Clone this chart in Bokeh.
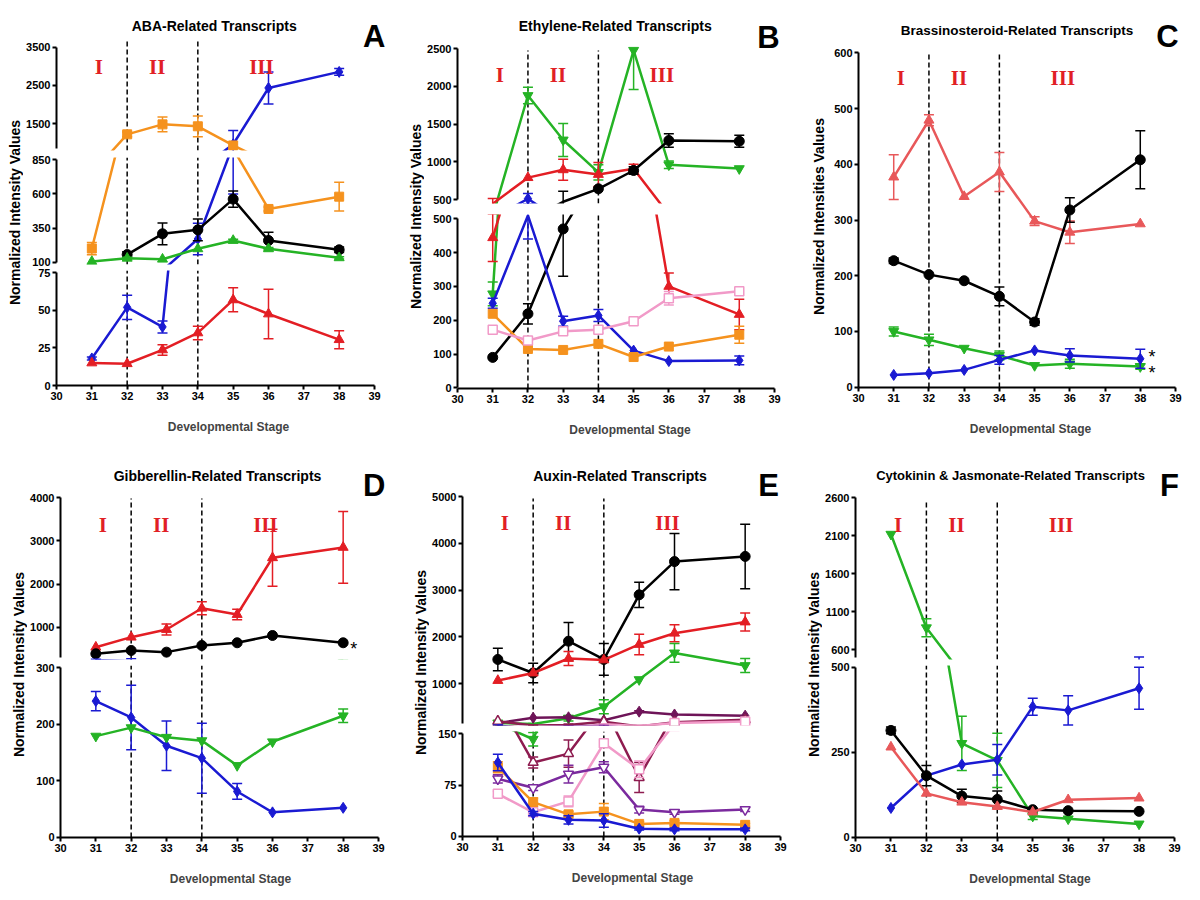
import math
from bokeh.plotting import figure
from bokeh.models import Range1d, FixedTicker, Label
from bokeh.layouts import row, column
from bokeh.embed import file_html
from bokeh.resources import INLINE

nan = float("nan")

# ---------------- data ----------------
stages = [31, 32, 33, 34, 35, 36, 38]
x_ticks = list(range(30, 40))
region_labels = ["I", "II", "III"]
region_x = [31.2, 32.85, 35.8]
stage_breaks = [32, 34]
x_label = "Developmental Stage"
y_label = "Normalized Intensity Values"
y_label_c = "Normalized Intensities Values"

titles = ["ABA-Related Transcripts", "Ethylene-Related Transcripts",
          "Brassinosteroid-Related Transcripts", "Gibberellin-Related Transcripts",
          "Auxin-Related Transcripts", "Cytokinin & Jasmonate-Related Transcripts"]
letters = ["A", "B", "C", "D", "E", "F"]

# Panel A (ABA)
a_ticks_top = [1500, 2500, 3500]
a_ticks_mid = [100, 350, 600, 850]
a_ticks_low = [0, 25, 50, 75]
a_blue = [18, 52, 39, 270, 960, 2430, 2850]
a_blue_err = [1, 8, 4, 115, 360, 420, 90]
a_orange = [200, 1220, 1480, 1430, 930, 490, 580]
a_orange_err = [45, 60, 190, 270, 0, 15, 105]
a_black = [nan, 156, 308, 337, 562, 259, 191]
a_black_err = [0, 20, 80, 80, 60, 60, 20]
a_green = [105, 129, 122, 198, 259, 198, 132]
a_green_err = [0, 8, 0, 0, 10, 10, 8]
a_red = [15, 14.5, 23.7, 35, 57, 47.6, 30.5]
a_red_err = [0, 0, 3.5, 4.5, 8, 16.5, 6]

# Panel B (Ethylene)
b_ticks_top = [500, 1000, 1500, 2000, 2500]
b_ticks_low = [0, 100, 200, 300, 400, 500]
b_green = [278, 1880, 1290, 860, 2480, 960, 910]
b_green_err = [35, 110, 220, 100, 520, 50, 0]
b_green_err_up = [35, 110, 220, 100, 0, 50, 0]
b_red = [444, 790, 894, 832, 907, 300, 217]
b_red_err = [70, 0, 140, 160, 60, 40, 45]
b_black = [90, 219, 470, 642, 885, 1283, 1273]
b_black_err = [0, 30, 140, 0, 50, 90, 80]
b_blue = [250, 510, 197, 214, 110, 79, 81]
b_blue_err = [15, 70, 15, 18, 0, 0, 13]
b_orange = [219, 115, 112, 130, 91, 122, 157]
b_orange_err = [0, 0, 0, 0, 0, 0, 25]
b_pink = [172, 140, 167, 172, 197, 265, 286]
b_pink_err = [0, 0, 0, 10, 0, 20, 0]

# Panel C (Brassinosteroid)
c_ticks = [0, 100, 200, 300, 400, 500, 600]
c_salmon = [377, 479, 342, 386, 298, 278, 293]
c_salmon_err = [40, 10, 0, 35, 8, 20, 0]
c_black = [227, 202, 191, 163, 117, 318, 408]
c_black_err = [5, 0, 0, 17, 6, 22, 52]
c_green = [100, 85, 70, 57, 39, 42, 37]
c_green_err = [8, 10, 0, 8, 0, 8, 5]
c_blue = [22, 25, 31, 49, 66, 57, 51]
c_blue_err = [0, 0, 0, 8, 0, 12, 17]

# Panel D (Gibberellin)
d_ticks_top = [1000, 2000, 3000, 4000]
d_ticks_low = [0, 100, 200, 300]
d_red = [537, 769, 947, 1440, 1294, 2610, 2850]
d_red_err = [0, 0, 130, 150, 120, 660, 830]
d_black = [384, 461, 422, 576, 639, 808, 639]
d_black_err = [0, 0, 0, 0, 0, 0, 0]
d_blue = [241, 212, 162, 140, 81, 44, 52]
d_blue_err = [17, 57, 44, 62, 14, 0, 0]
d_green = [179, 194, 177, 171, 127, 169, 215]
d_green_err = [0, 0, 0, 0, 0, 0, 12]

# Panel E (Auxin)
e_ticks_top = [1000, 2000, 3000, 4000, 5000]
e_ticks_low = [0, 75, 150]
e_black = [1520, 1230, 1910, 1520, 2900, 3610, 3720]
e_black_err = [240, 210, 400, 340, 270, 600, 690]
e_red = [1070, 1230, 1540, 1510, 1840, 2080, 2320]
e_red_err = [0, 0, 150, 0, 220, 180, 190]
e_green = [165, 142, 265, 510, 1090, 1660, 1390]
e_green_err = [0, 10, 60, 150, 0, 200, 150]
e_magenta = [160, 275, 285, 220, 405, 345, 320]
e_magenta_err = [0, 0, 20, 0, 20, 0, 0]
e_maroon = [200, 108, 121, 190, 86, 180, 230]
e_maroon_err = [0, 8, 20, 0, 22, 0, 0]
e_pink = [62, 35, 51, 136, 98, 165, 195]
e_pink_err = [4, 4, 8, 0, 12, 10, 10]
e_purple = [84, 71, 91, 101, 39, 35, 39]
e_purple_err = [6, 4, 13, 8, 5, 3, 3]
e_orange = [101, 50, 32, 36, 18, 19.5, 16.6]
e_orange_err = [8, 6, 4, 12, 3, 3, 2]
e_blue = [108, 33, 24, 23, 11, 10, 10]
e_blue_err = [12, 3, 6, 10, 2, 2, 2]

# Panel F (Cytokinin & Jasmonate)
f_ticks_top = [600, 1100, 1600, 2100, 2600]
f_ticks_low = [0, 250, 500]
f_green = [2120, 887, 276, 226, 62, 54, 39]
f_green_err = [0, 120, 80, 80, 10, 0, 0]
f_blue = [86, 181, 214, 228, 384, 373, 438]
f_blue_err = [0, 0, 0, 45, 25, 43, 62]
f_black = [314, 181, 121, 111, 81, 78, 76]
f_black_err = [10, 30, 20, 25, 0, 0, 0]
f_salmon = [265, 129, 103, 90, 74, 110, 115]
f_salmon_err = [0, 0, 0, 0, 0, 0, 0]

# ---------------- styles ----------------
BLUE = "#1a1ad2"
ORANGE = "#f5921e"
GREEN = "#25b325"
RED = "#e31e24"
SALMON = "#e8585a"
BLACK = "#000000"
PINK = "#f19ac8"
PURPLE = "#7b2a9e"
MAROON = "#8e1c50"
MAGENTA = "#6e1458"
ROMAN = "#e11f26"

FONT = '"Liberation Sans", Arial, sans-serif'
FONT_S = '"Liberation Serif", "Times New Roman", serif'
AXIS_W = 31


def S(y, e, color, marker, open_=False, size=10, eu=None):
    return dict(y=y, e=e, eu=(eu if eu is not None else e), color=color,
                marker=marker, open=open_, size=size)


def style_axis(ax):
    ax.major_label_text_font = FONT
    ax.major_label_text_font_style = "bold"
    ax.major_label_text_font_size = "11px"
    ax.major_label_text_color = "black"
    ax.axis_line_width = 2
    ax.major_tick_line_width = 2
    ax.major_tick_out = 4
    ax.major_tick_in = 0
    ax.minor_tick_out = 0
    ax.minor_tick_in = 0
    ax.major_label_standoff = 2


def draw_series(p, s, lo, hi):
    """Draw one series in one axis segment; markers only for points of this segment."""
    xs, ys = stages, s["y"]
    ex, elo, ehi = [], [], []
    cx, cy = [], []
    for x, y, e, eu in zip(xs, ys, s["e"], s["eu"]):
        if math.isnan(y):
            continue
        if e > 0 or eu > 0:
            ex.append(x); elo.append(y - e); ehi.append(y + eu)
        if e > 0:
            cx.append(x); cy.append(y - e)
        if eu > 0:
            cx.append(x); cy.append(y + eu)
    if ex:
        p.segment(ex, elo, ex, ehi, line_color=s["color"], line_width=1.5)
        p.scatter(cx, cy, marker="dash", size=10, line_color=s["color"], line_width=1.5)
    p.line(xs, ys, line_color=s["color"], line_width=2.5)
    mx = [x for x, y in zip(xs, ys) if not math.isnan(y) and lo <= y <= hi]
    my = [y for y in ys if not math.isnan(y) and lo <= y <= hi]
    if not mx:
        return
    if s["open"]:
        p.scatter(mx, my, marker=s["marker"], size=s["size"], line_color=s["color"],
                  fill_color="white", line_width=1.5)
    else:
        p.scatter(mx, my, marker=s["marker"], size=s["size"], line_color=s["color"],
                  fill_color=s["color"], line_width=1)


def build_panel(box, fx, segs, series, idx, title_xy, letter_xy, ylab, ylab_xy,
                roman_y, dash_px, stars=(), pad=2, title_size="14px"):
    left, top, width, height = box
    fx0, fx1 = fx
    kx = (fx1 - fx0) / 9.0
    frame_right = left + width - 2
    fw = frame_right - fx0
    x_end = 39 + (frame_right - fx1) / kx
    ylab_w = fx0 - AXIS_W - left
    n = len(segs)
    frames = []
    for i, sg in enumerate(segs):
        lo, hi, ylo, yhi = sg["lo"], sg["hi"], sg["ylo"], sg["yhi"]
        ft = top if i == 0 else int(round(yhi - pad))
        fb = int(math.ceil(ylo)) if i == n - 1 else int(round(ylo + pad))
        k = (ylo - yhi) / (hi - lo)
        start = lo - (fb - ylo) / k
        end = hi + (yhi - ft) / k
        dtop = hi + (yhi - dash_px) / k if i == 0 else end
        frames.append((ft, fb, start, end, dtop))

    figs = []
    for i, (sg, (ft, fb, start, end, dtop)) in enumerate(zip(segs, frames)):
        if i == 0:
            bt = ft - top
        else:
            gap = ft - frames[i - 1][1]
            bt = gap - gap // 2
        if i == n - 1:
            bb = top + height - fb
        else:
            gap = frames[i + 1][0] - fb
            bb = gap // 2
        last = (i == n - 1)
        p = figure(x_range=Range1d(30, x_end), y_range=Range1d(start, end),
                   frame_width=fw, frame_height=fb - ft,
                   min_border_left=AXIS_W, min_border_right=2,
                   min_border_top=bt, min_border_bottom=bb,
                   x_axis_location="below" if last else None,
                   y_axis_location="left",
                   toolbar_location=None, output_backend="svg",
                   outline_line_color=None, background_fill_color="white",
                   border_fill_color="white")
        p.grid.visible = False
        ya = p.yaxis[0]
        style_axis(ya)
        ya.ticker = FixedTicker(ticks=sg["ticks"])
        ya.bounds = (sg["lo"], sg["hi"])
        if last:
            xa = p.xaxis[0]
            style_axis(xa)
            xa.ticker = FixedTicker(ticks=x_ticks)
            xa.bounds = (30, 39)
            xa.axis_label = x_label
            xa.axis_label_text_font = FONT
            xa.axis_label_text_font_style = "bold"
            xa.axis_label_text_font_size = "12px"
            xa.axis_label_standoff = 17
        # stage boundaries (dashed)
        p.segment(stage_breaks, [start] * 2, stage_breaks, [dtop] * 2,
                  line_color="black", line_width=1.5, line_dash="5 3")
        seg_lo = -1e12 if last else sg["lo"]
        seg_hi = 1e12 if i == 0 else sg["hi"]
        for s in series:
            draw_series(p, s, seg_lo, seg_hi)
        for (sx, sy, soff) in stars:
            if sg["lo"] <= sy <= sg["hi"]:
                p.add_layout(Label(x=sx, y=sy, y_offset=soff, text="*",
                                   text_font=FONT, text_font_size="18px",
                                   text_color="black", text_align="center",
                                   text_baseline="middle"))
        if i == 0:
            p.add_layout(Label(x=title_xy[0] - fx0, y=fb - title_xy[1],
                               x_units="screen", y_units="screen", text=titles[idx],
                               text_font=FONT, text_font_style="bold",
                               text_font_size=title_size, text_color="black",
                               text_align="center", text_baseline="middle"))
            p.add_layout(Label(x=letter_xy[0] - fx0, y=fb - letter_xy[1],
                               x_units="screen", y_units="screen", text=letters[idx],
                               text_font=FONT, text_font_style="bold",
                               text_font_size="31px", text_color="black",
                               text_align="center", text_baseline="middle"))
            for rx, rt in zip(region_x, region_labels):
                p.add_layout(Label(x=rx, y=fb - roman_y, x_units="data",
                                   y_units="screen", text=rt, text_font=FONT_S,
                                   text_font_style="bold", text_font_size="21px",
                                   text_color=ROMAN, text_align="center",
                                   text_baseline="middle"))
        figs.append(p)

    lab = figure(width=ylab_w, height=height, x_range=Range1d(0, 1),
                 y_range=Range1d(0, 1), x_axis_location=None, y_axis_location=None,
                 toolbar_location=None, output_backend="svg", min_border=0,
                 outline_line_color=None, border_fill_color="white",
                 background_fill_color="white")
    lab.grid.visible = False
    cx = min(ylab_xy[0] - left, ylab_w - 9)
    lab.add_layout(Label(x=cx, y=top + height - ylab_xy[1],
                         x_units="screen", y_units="screen", text=ylab,
                         angle=math.pi / 2, text_font=FONT, text_font_style="bold",
                         text_font_size="14px", text_color="black",
                         text_align="center", text_baseline="middle"))
    return row(lab, column(*figs, spacing=0), spacing=0)


pA = build_panel(
    (0, 0, 400, 450), (54, 372),
    [dict(lo=850, hi=3500, ylo=148, yhi=46.5, ticks=a_ticks_top),
     dict(lo=100, hi=850, ylo=261.7, yhi=159.3, ticks=a_ticks_mid),
     dict(lo=0, hi=75, ylo=385, yhi=272.3, ticks=a_ticks_low)],
    [S(a_blue, a_blue_err, BLUE, "diamond", size=11),
     S(a_orange, a_orange_err, ORANGE, "square", size=9),
     S(a_black, a_black_err, BLACK, "circle", size=10),
     S(a_green, a_green_err, GREEN, "triangle", size=10),
     S(a_red, a_red_err, RED, "triangle", size=10)],
    0, (211.7, 25), (371.7, 36), y_label, (16, 212), 66.7, 40)

pB = build_panel(
    (400, 0, 400, 450), (453, 770),
    [dict(lo=500, hi=2500, ylo=199, yhi=48.3, ticks=b_ticks_top),
     dict(lo=0, hi=500, ylo=387.3, yhi=218.3, ticks=b_ticks_low)],
    [S(b_green, b_green_err, GREEN, "inverted_triangle", size=10, eu=b_green_err_up),
     S(b_red, b_red_err, RED, "triangle", size=10),
     S(b_black, b_black_err, BLACK, "circle", size=10),
     S(b_blue, b_blue_err, BLUE, "diamond", size=11),
     S(b_orange, b_orange_err, ORANGE, "square", size=9),
     S(b_pink, b_pink_err, PINK, "square", open_=True, size=9)],
    1, (610.7, 25), (764, 37), y_label, (415, 216), 74, 50, pad=4)

pC = build_panel(
    (800, 0, 400, 450), (854, 1171),
    [dict(lo=0, hi=600, ylo=386.7, yhi=52.3, ticks=c_ticks)],
    [S(c_salmon, c_salmon_err, SALMON, "triangle", size=10),
     S(c_black, c_black_err, BLACK, "circle", size=10),
     S(c_green, c_green_err, GREEN, "inverted_triangle", size=10),
     S(c_blue, c_blue_err, BLUE, "diamond", size=11)],
    2, (1012.5, 30), (1163, 36), y_label_c, (815, 216), 77.3, 53,
    stars=[(38.33, c_blue[-1], 2), (38.33, c_green[-1], -6)], title_size="13.5px")

pD = build_panel(
    (0, 450, 400, 450), (58, 376),
    [dict(lo=300, hi=4000, ylo=656.9, yhi=497.3, ticks=d_ticks_top),
     dict(lo=0, hi=300, ylo=836.7, yhi=667.3, ticks=d_ticks_low)],
    [S(d_red, d_red_err, RED, "triangle", size=10),
     S(d_black, d_black_err, BLACK, "circle", size=10),
     S(d_blue, d_blue_err, BLUE, "diamond", size=11),
     S(d_green, d_green_err, GREEN, "inverted_triangle", size=10)],
    3, (215, 475), (371.7, 485), y_label, (20, 664), 524, 498,
    stars=[(38.3, d_black[-1], -6)])

pE = build_panel(
    (400, 450, 400, 450), (458, 776),
    [dict(lo=150, hi=5000, ylo=723.1, yhi=496, ticks=e_ticks_top),
     dict(lo=0, hi=150, ylo=835.7, yhi=733.3, ticks=e_ticks_low)],
    [S(e_black, e_black_err, BLACK, "circle", size=10),
     S(e_red, e_red_err, RED, "triangle", size=10),
     S(e_green, e_green_err, GREEN, "inverted_triangle", size=10),
     S(e_magenta, e_magenta_err, MAGENTA, "diamond", size=11),
     S(e_maroon, e_maroon_err, MAROON, "triangle", open_=True, size=10),
     S(e_pink, e_pink_err, PINK, "square", open_=True, size=9),
     S(e_purple, e_purple_err, PURPLE, "inverted_triangle", open_=True, size=10),
     S(e_orange, e_orange_err, ORANGE, "square", size=9),
     S(e_blue, e_blue_err, BLUE, "diamond", size=11)],
    4, (615.5, 475), (764, 485), y_label, (420, 662), 522.7, 498)

pF = build_panel(
    (800, 450, 400, 450), (849, 1168),
    [dict(lo=500, hi=2600, ylo=656.6, yhi=497.3, ticks=f_ticks_top),
     dict(lo=0, hi=500, ylo=836.7, yhi=666.7, ticks=f_ticks_low)],
    [S(f_green, f_green_err, GREEN, "inverted_triangle", size=10),
     S(f_blue, f_blue_err, BLUE, "diamond", size=11),
     S(f_black, f_black_err, BLACK, "circle", size=10),
     S(f_salmon, f_salmon_err, SALMON, "triangle", size=10)],
    5, (1004, 475), (1163, 485), y_label, (812, 664), 524, 500, title_size="13px")

layout = column(row(pA, pB, pC, spacing=0), row(pD, pE, pF, spacing=0), spacing=0)

with open("out.html", "w") as f:
    f.write(file_html(layout, INLINE))
